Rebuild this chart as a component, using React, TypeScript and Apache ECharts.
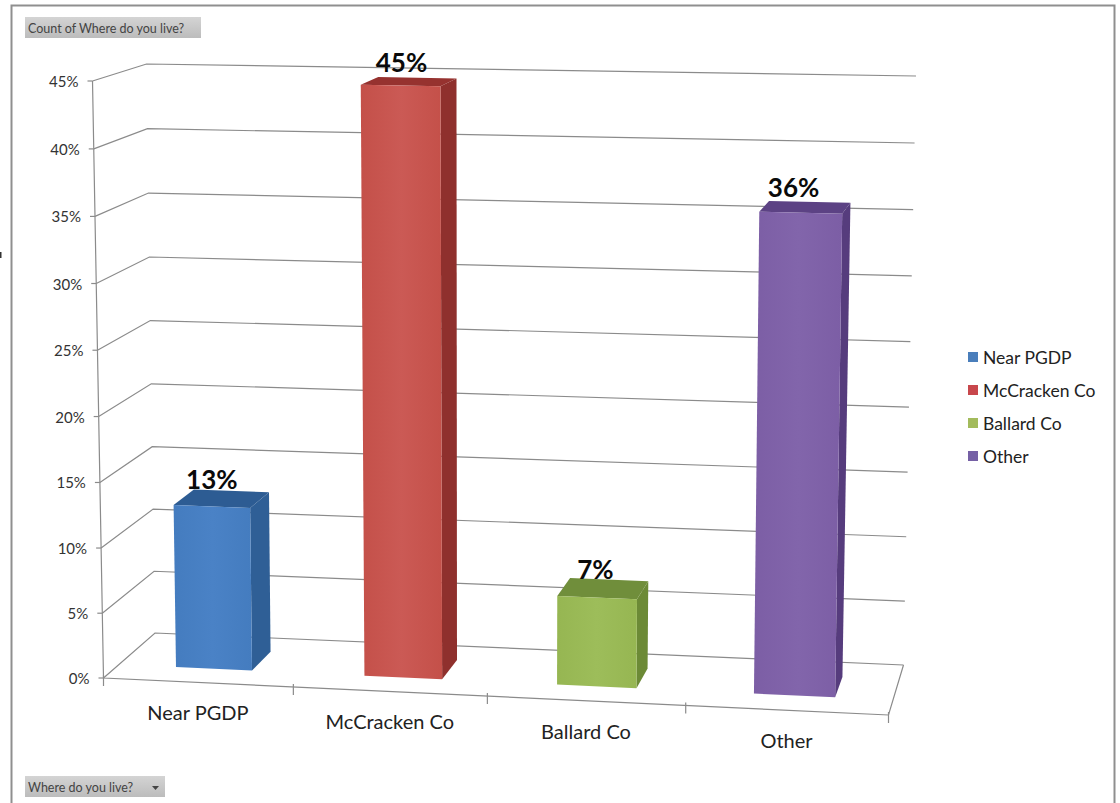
import React, { useEffect, useRef } from "react";
import * as echarts from "echarts";

const categories = ["Near PGDP", "McCracken Co", "Ballard Co", "Other"];
const barValues = [12.6, 44.7, 6.8, 36];
const valueTicks = [0, 5, 10, 15, 20, 25, 30, 35, 40, 45];
const categoryTicks = [0, 1, 2, 3, 4];
const filterTitle = "Count of Where do you live?";
const axisFilter = "Where do you live?";

type Pt = [number, number];
type Face = { front: string; front2: string; side: string; top: string };
const faces: Face[] = [
  { front: "#447cbf", front2: "#4a82c6", side: "#2f5f96", top: "#2d5c93" },
  { front: "#c45049", front2: "#cb5a55", side: "#8f302d", top: "#96322f" },
  { front: "#96b652", front2: "#9dbd5a", side: "#6c8a36", top: "#708e3b" },
  { front: "#7c5ea5", front2: "#8265ab", side: "#563c7d", top: "#5c4284" },
];
const legendColors = ["#4a7ebb", "#c8474c", "#a3bb5c", "#7560a5"];

// Corners of the perspective box: [front|back][Left|Right][Bottom|Top]
const FLB: Pt = [103.5, 678];
const FLT: Pt = [92.5, 81];
const FRB: Pt = [888.5, 715];
const FRT: Pt = [898, 97];
const BLB: Pt = [155, 633];
const BLT: Pt = [146.5, 64];
const BRB: Pt = [903.5, 665];
const BRT: Pt = [916, 76];

const warp = (f: number, k: number) => (f * k) / (1 + (k - 1) * f);
const mix = (a: Pt, b: Pt, t: number): Pt => [a[0] + (b[0] - a[0]) * t, a[1] + (b[1] - a[1]) * t];

function project(U: number, V: number, w: number): Pt {
  const t = warp(U, 0.957);
  const s = warp(V, 0.974);
  const fb = mix(FLB, FRB, t);
  const ft = mix(FLT, FRT, t);
  const bb = mix(BLB, BRB, t);
  const bt = mix(BLT, BRT, t);
  return mix(mix(fb, ft, s), mix(bb, bt, s), w);
}

// data space (category position, percent, depth) -> page, through the grid's own scales
function place(params: any, api: any, x: number, v: number, w: number): Pt {
  const cs = params.coordSys;
  const p = api.coord([x, v]);
  return project((p[0] - cs.x) / cs.width, (cs.y + cs.height - p[1]) / cs.height, w);
}

const LINE = "#8b8b8b";
const FONT = "Lato";
const lineStyle = { stroke: LINE, lineWidth: 1.2, fill: "none" };

const barHalf = 0.203;
const barShift = 0.01;
const W0 = 0.3;
const W1 = 0.71;

function barSeries(i: number) {
  return {
    type: "custom",
    name: categories[i],
    coordinateSystem: "cartesian2d",
    itemStyle: { color: legendColors[i] },
    silent: true,
    data: [[i + 0.5, barValues[i]]],
    renderItem: (params: any, api: any) => {
      const x = api.value(0) + barShift;
      const v = api.value(1);
      const f = faces[i];
      const l = x - barHalf;
      const r = x + barHalf;
      const p = (a: number, b: number, c: number) => place(params, api, a, b, c);
      const labelX = p(x, 0, 0.255)[0];
      const labelY = p(x, v, W1)[1] - 10 - (v / 45) * 6;
      const poly = (points: Pt[], fill: any) => ({
        type: "polygon",
        shape: { points },
        style: { fill },
      });
      return {
        type: "group",
        children: [
          poly([p(r, 0, W0), p(r, 0, W1), p(r, v, W1), p(r, v, W0)], f.side),
          poly([p(l, v, W0), p(r, v, W0), p(r, v, W1), p(l, v, W1)], f.top),
          poly([p(l, 0, W0), p(r, 0, W0), p(r, v, W0), p(l, v, W0)], {
            type: "linear",
            x: 0,
            y: 0,
            x2: 1,
            y2: 0,
            colorStops: [
              { offset: 0, color: f.front },
              { offset: 0.5, color: f.front2 },
              { offset: 1, color: f.front },
            ],
          }),
          {
            type: "text",
            style: {
              x: labelX,
              y: labelY,
              text: Math.round(v) + "%",
              textAlign: "center",
              textVerticalAlign: "middle",
              fontFamily: FONT,
              fontWeight: "bold",
              fontSize: 26,
              fill: "#0a0a0a",
            },
          },
        ],
      };
    },
  };
}

const gridSeries = {
  type: "custom",
  coordinateSystem: "cartesian2d",
  silent: true,
  data: valueTicks.map((v) => [0, v]),
  renderItem: (params: any, api: any) => {
    const v = api.value(1);
    const p = (a: number, c: number) => place(params, api, a, v, c);
    const front = p(0, 0);
    return {
      type: "group",
      children: [
        { type: "polyline", shape: { points: [front, p(0, 1), p(4, 1)] }, style: lineStyle },
        { type: "line", shape: { x1: front[0] - 5, y1: front[1], x2: front[0], y2: front[1] }, style: lineStyle },
        {
          type: "text",
          style: {
            x: front[0] - 14,
            y: front[1],
            text: v + "%",
            textAlign: "right",
            textVerticalAlign: "middle",
            fontFamily: FONT,
            fontSize: 15,
            fill: "#333",
          },
        },
      ],
    };
  },
};

const frameSeries = {
  type: "custom",
  coordinateSystem: "cartesian2d",
  silent: true,
  data: [[0, 45]],
  renderItem: (params: any, api: any) => {
    const p = (a: number, b: number, c: number) => place(params, api, a, b, c);
    return {
      type: "group",
      children: [
        { type: "polyline", shape: { points: [p(0, api.value(1), 0), p(0, 0, 0), p(4, 0, 0), p(4, 0, 1)] }, style: lineStyle },
      ],
    };
  },
};

const categoryAxisSeries = {
  type: "custom",
  coordinateSystem: "cartesian2d",
  silent: true,
  data: categoryTicks.map((u) => [u, 0]),
  renderItem: (params: any, api: any) => {
    const u = api.value(0);
    const base = place(params, api, u, 0, 0);
    const children: any[] = [
      { type: "line", shape: { x1: base[0], y1: base[1] - 3, x2: base[0], y2: base[1] + 8 }, style: lineStyle },
    ];
    if (u < categories.length) {
      const mid = place(params, api, u + 0.5, 0, 0);
      children.push({
        type: "text",
        style: {
          x: mid[0],
          y: mid[1] + 30,
          text: categories[u],
          textAlign: "center",
          textVerticalAlign: "middle",
          fontFamily: FONT,
          fontSize: 20,
          fill: "#222",
        },
      });
    }
    return { type: "group", children };
  },
};

const buttonFill = {
  type: "linear",
  x: 0,
  y: 0,
  x2: 0,
  y2: 1,
  colorStops: [
    { offset: 0, color: "#d4d4d4" },
    { offset: 1, color: "#bcbcbc" },
  ],
};

function App() {
  const ref = useRef<HTMLDivElement>(null);
  useEffect(() => {
    const chart = echarts.init(ref.current!, undefined, { renderer: "svg" });
    chart.setOption({
      animation: false,
      backgroundColor: "#ffffff",
      grid: { left: 104, right: 224, top: 81, bottom: 125 },
      xAxis: { type: "value", min: 0, max: 4, show: false },
      yAxis: { type: "value", min: 0, max: 45, interval: 5, show: false },
      legend: {
        orient: "vertical",
        left: 963,
        top: 343,
        itemWidth: 10,
        itemHeight: 10,
        itemGap: 15,
        icon: "rect",
        data: categories,
        textStyle: { fontFamily: FONT, fontSize: 17.5, color: "#222" },
      },
      series: [gridSeries, frameSeries, categoryAxisSeries, ...categories.map((_, i) => barSeries(i))],
      graphic: [
        { type: "polyline", shape: { points: [[11.5, 803], [11.5, 5.5], [1114.5, 5.5], [1114.5, 803]] }, style: { fill: "none", stroke: "#8f8f8f", lineWidth: 2 }, silent: true },
        { type: "rect", shape: { x: 0, y: 252, width: 1.5, height: 6 }, style: { fill: "#333" }, silent: true },
        { type: "rect", shape: { x: 25, y: 17, width: 176, height: 21 }, style: { fill: buttonFill }, silent: true },
        { type: "text", style: { x: 28, y: 28, text: filterTitle, textVerticalAlign: "middle", fontFamily: FONT, fontSize: 12.5, fill: "#444" }, silent: true },
        { type: "rect", shape: { x: 25, y: 776, width: 140, height: 21 }, style: { fill: buttonFill }, silent: true },
        { type: "text", style: { x: 28, y: 787, text: axisFilter, textVerticalAlign: "middle", fontFamily: FONT, fontSize: 12.5, fill: "#444" }, silent: true },
        { type: "polygon", shape: { points: [[152, 786], [159, 786], [155.5, 790]] }, style: { fill: "#444" }, silent: true },
      ],
    });
    return () => chart.dispose();
  }, []);
  return <div ref={ref} style={{ position: "absolute", left: 0, top: 0, width: 1120, height: 803 }} />;
}

export default App;
